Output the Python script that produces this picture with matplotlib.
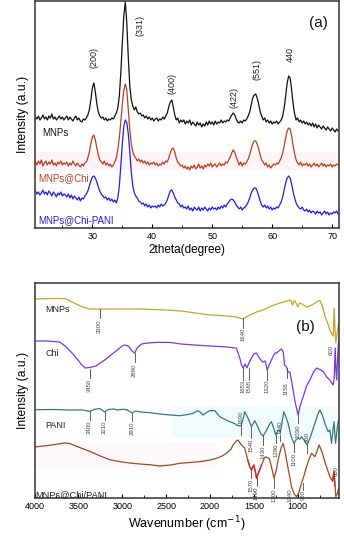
import numpy as np
import matplotlib
matplotlib.use('Agg')
import matplotlib.pyplot as plt

plt.rcParams['font.family'] = ['Liberation Sans', 'DejaVu Sans']

#--------------------- XRD data (panel a) ---------------------
two_theta = np.arange(20.5, 71.01, 0.25)

xrd_mnps = [111,109,112,108,110,113,109,111,108,112,110,114,109,111,108,110,112,109,111,108,
            110,112,108,111,109,107,110,112,108,110,107,106,109,108,110,113,118,128,140,145,
            136,124,116,112,110,111,108,110,107,109,108,110,109,112,115,120,132,155,185,212,
            226,205,170,142,128,122,118,121,116,114,115,112,113,110,112,109,111,108,110,107,
            109,110,107,109,108,111,109,112,115,121,126,128,121,113,108,110,105,108,106,108,
            104,107,105,108,103,106,104,102,106,103,105,101,104,102,106,103,107,104,106,103,
            107,104,106,105,108,105,107,106,108,107,110,113,115,113,109,106,105,107,105,108,
            107,109,112,116,123,130,133,134,130,124,116,112,108,110,106,108,105,107,104,106,
            105,107,104,106,108,112,120,132,145,152,150,138,124,114,108,110,106,108,105,107,
            104,106,103,105,102,105,101,104,100,103,101,99,102,100,98,101,99,97,100,98,
            96,99,97]

xrd_chi = [66,63,67,64,68,62,65,67,63,66,64,68,63,65,62,66,64,67,63,65,
           64,66,62,65,63,67,64,62,65,63,61,64,62,65,66,70,76,84,91,93,
           88,80,73,68,66,64,67,63,65,62,64,61,63,66,70,78,90,106,124,138,
           144,138,118,98,84,76,72,70,67,69,66,68,65,67,64,66,63,65,64,66,
           63,65,62,64,63,66,64,67,66,70,75,79,80,76,70,66,64,62,63,60,
           62,59,61,58,62,60,63,59,61,64,60,62,59,63,61,64,62,65,61,63,
           64,61,63,65,62,64,63,66,65,68,71,75,78,76,71,67,63,66,62,65,
           64,66,69,73,79,84,87,87,84,79,73,68,66,63,65,61,63,60,62,64,
           63,65,64,67,70,75,82,90,97,100,99,92,82,74,68,65,63,66,62,64,
           63,65,62,64,61,63,65,62,64,61,63,65,62,64,61,63,62,64,61,63,
           62,64,63]

xrd_chi_pani = [37,34,36,33,35,38,34,36,33,37,35,32,36,34,31,35,33,36,32,34,
                33,31,34,30,33,29,32,30,28,31,27,30,29,32,34,37,42,47,51,52,
                50,46,41,37,34,32,30,31,28,30,27,29,26,28,25,30,42,62,84,102,
                108,105,94,76,56,42,35,32,30,27,26,24,25,22,24,21,23,20,22,21,
                22,20,23,21,24,22,23,25,28,33,37,38,35,31,28,25,24,21,23,20,
                21,19,22,18,20,17,21,19,18,21,17,20,18,21,19,17,20,18,21,19,
                20,18,21,19,22,20,23,21,24,26,28,29,28,26,23,21,19,21,18,20,
                21,23,26,30,35,38,40,40,37,32,27,23,21,23,20,22,19,21,18,20,
                19,21,20,23,26,31,38,45,50,52,50,44,36,30,25,22,20,19,21,18,
                17,19,16,18,15,17,16,14,17,15,16,13,15,17,14,16,13,15,14,16,
                15,17,14]

peak_pos = [30.3, 38.0, 43.3, 53.7, 57.45, 63.0]
peak_lab = ['(200)', '(331)', '(400)', '(422)', '(551)', '440']
peak_y = [170, 203, 145, 131, 158, 173]

#--------------------- FTIR data (panel b) ---------------------
w_mnps = [4000,3800,3700,3635,3550,3450,3372,3300,3000,2790,2500,2330,2000,1800,1700,1623,
          1547,1470,1398,1300,1204,1120,1090,1075,1060,1045,1030,999,980,950,900,862,800,
          771,748,720,691,660,634,610,596,585,575,566,551,539,530]
h_mnps = [199,199.5,199.5,199,195,191,189,189,189,189,188,187,183,182,181,179,
          183,186,188,192,195,197,198,197,193,197,197,191,195,194,191,192,195,
          197,197.5,192,182,175,168,164,162,190,168,155,165,172,175]

w_chi = [4000,3850,3715,3650,3550,3460,3420,3372,3300,3200,3100,3000,2973,2930,2890,2859,
         2830,2780,2711,2600,2450,2333,2100,1990,1800,1720,1699,1680,1661,1640,1623,1600,
         1581,1540,1500,1470,1430,1400,1370,1349,1320,1290,1260,1242,1215,1185,1165,1150,
         1128,1110,1090,1060,1030,996,970,939,900,862,820,786,750,710,670,634,605,596,
         585,573,565,557,548,539,530]
h_chi = [157,157,156,152,143,133,130,130.5,132,138,145,152,153,152,147,145,
         150,154,155,155.7,155.5,154,152.5,152,151,150,150,145,140,133,130,134,
         130,138,144,145,139,136,137,128,134,140,145,145,147,149,146,133,
         131,126,126,112,96,83,93,101,112,118,126,130,128.5,126.5,121,118,114,113,
         120,150,128,118,135,152,158]

w_pani = [4000,3800,3600,3450,3372,3320,3258,3230,3201,3160,3100,3050,3000,2950,2885,2850,
          2790,2688,2574,2450,2345,2250,2194,2137,2100,2080,2040,2003,1946,1889,1830,1775,
          1720,1699,1660,1642,1620,1604,1566,1528,1490,1460,1420,1395,1360,1320,1300,1275,
          1250,1230,1212,1200,1185,1159,1135,1110,1080,1045,1020,996,975,957,920,893,
          860,830,805,770,748,720,691,653,634,615,588,569,550,539,530]
h_pani = [88.3,88.5,88,88,86.5,88.5,89.5,88,86,88.5,89,88,88.7,88.3,85,87,
          86,85.3,84,83,82.3,83.5,84.7,87.3,85,83,85.5,87.3,87.3,81.3,78.5,76.3,
          74.5,73,72,73,80,86.3,79.7,71.3,77.3,72,64,62,67,74,76.3,70,
          63,67,68,65.5,72,86.3,81,74.7,63,54.7,58,59.7,59,61.3,57,53,
          60,68,74.7,84,88,83,74.7,66.3,68,54.7,76.3,54.7,70,76.3,78]

w_mix = [4000,3800,3658,3600,3500,3372,3250,3144,3000,2916,2800,2688,2574,2450,2345,2230,
         2117,2000,1927,1860,1813,1760,1737,1700,1680,1669,1640,1604,1570,1547,1528,1501,
         1480,1470,1440,1413,1380,1364,1340,1326,1300,1270,1245,1224,1190,1167,1145,1128,
         1100,1071,1040,1014,990,957,930,900,870,843,805,780,756,720,691,660,634,603,
         588,575,566,550,539,530]
h_mix = [51,53,55,54.5,51,46.7,42,38.3,36,35,34,33.3,32,33,34.7,35.5,
         36.3,38,39.7,42,44.7,49,53,57,58,56.3,53,49.7,38,31.3,28,33,
         25,19.7,27,33,40,41.3,40,39.7,31.3,19.7,28,38,50,54.7,47,38,
         25,11.3,4,1.3,5,14.7,22,31.3,39,44.7,41.3,47,53,45,36.3,28,21.3,16.7,
         26.3,12,1.3,4,8,10]

# band labels: (wavenumber, line top, line bottom, text, text y)
marks_mnps = [(3258, 189, 180, '3300', 172), (1623, 180, 170, '1640', 164)]
marks_chi = [(3372, 129, 120, '3450', 112.5), (2859, 145, 136, '2880', 128),
             (1623, 130, 118, '1653', 112), (1560, 130, 118, '1565', 112),
             (1349, 128, 118, '1320', 112), (1128, 130, 120, '1156', 109),
             (996, 83, 75, '1030', 67), (615, None, None, '600', 148)]
marks_pani = [(3372, 87, 78, '3400', 71), (3201, 86, 78, '3210', 70.5),
              (2885, 85, 77, '2910', 69.5), (1642, 73, 63, '1690', 81),
              (1528, 71, 60, '1540', 53), (1395, 62, 53, '1430', 45.5),
              (1250, 63, 55, '1290', 47.5), (1198, 63, 57, '1240', 71),
              (1045, 55, 46, '1100', 39), (893, 53, 45, '930', 61)]
marks_mix = [(1528, 28, 20, '1570', 12.5), (1470, 20, 12, '1490', 5),
             (1270, 20, 10, '1300', 3), (1083, None, None, '1040', 3),
             (942, 15, 8, '960', 3), (566, None, None, '600', 27)]

#--------------------- plotting ---------------------
fig = plt.figure(figsize=(3.44, 5.5), dpi=100)
L, W = 34.5/344, 304.5/344
ax1 = fig.add_axes([L, (550-228)/550, W, 227/550])
ax2 = fig.add_axes([L, (550-498)/550, W, 215/550])

c_black, c_red, c_blue = '#111111', '#b5401c', '#1f1fe0'
# faint tint behind the middle trace, as in the scanned figure
ax1.axhspan(58, 76, color='#fef4f7', zorder=0, lw=0)
ax1.plot(two_theta, xrd_mnps, color=c_black, lw=0.9)
ax1.plot(two_theta, xrd_chi, color=c_red, lw=0.9)
ax1.plot(two_theta, xrd_chi_pani, color=c_blue, lw=0.9)
for p, t, y in zip(peak_pos, peak_lab, peak_y):
    ax1.text(p, y, t, rotation=90, fontsize=6.5, ha='center', va='center', color='#222222')
ax1.text(21.67, 95, 'MNPs', fontsize=7, color=c_black, va='center')
ax1.text(21.0, 50, 'MNPs@Chi', fontsize=7, color=c_red, va='center')
ax1.text(21.0, 8, 'MNPs@Chi-PANI', fontsize=7, color=c_blue, va='center')
ax1.text(67.7, 205, '(a)', fontsize=11, ha='center', va='center', color='#111111')
ax1.set_xlim(20.35, 71.15)
ax1.set_ylim(0, 227)
ax1.set_xticks([30, 40, 50, 60, 70])
ax1.set_xticks(np.arange(25, 71, 10), minor=True)
ax1.set_xlabel('2theta(degree)', fontsize=8.5, labelpad=2)

c_gold, c_vio, c_teal, c_brown = '#c9a227', '#7a35e2', '#357786', '#9c4a22'
ax2.axhspan(60, 92, xmin=0.45, xmax=1, color='#f1fbfb', zorder=0, lw=0)
ax2.axhspan(30, 56, xmin=0.0, xmax=0.6, color='#fef8fa', zorder=0, lw=0)
ax2.plot(w_mnps, h_mnps, color=c_gold, lw=0.9)
ax2.plot(w_chi, h_chi, color=c_vio, lw=0.9)
ax2.plot(w_pani, h_pani, color=c_teal, lw=0.9)
ax2.plot(w_mix, h_mix, color=c_brown, lw=0.9)
wm = np.array(w_mix)
hm = np.array(h_mix)
for lo, hi in [(1390, 1600), (575, 620)]:
    sel = (wm >= lo) & (wm <= hi)
    ax2.plot(wm[sel], hm[sel], color='#d8261c', lw=0.9)

for marks in [marks_mnps, marks_chi, marks_pani, marks_mix]:
    for w, y0, y1, t, yt in marks:
        if y0 is not None:
            ax2.plot([w, w], [y0, y1], color='#444444', lw=0.6)
        ax2.text(w, yt, t, rotation=90, fontsize=4.3, ha='center', va='center', color='#444444')

ax2.text(3880, 189, 'MNPs', fontsize=6.5, va='center', color='#222222')
ax2.text(3880, 144, 'Chi', fontsize=6.5, va='center', color='#222222')
ax2.text(3880, 73, 'PANI', fontsize=6.5, va='center', color='#222222')
ax2.text(3990, 3, 'MNPs@Chi/PANI', fontsize=6.7, va='center', color='#222222')
ax2.text(910, 171, '(b)', fontsize=11, ha='center', va='center', color='#111111')
ax2.set_xlim(4000, 530)
ax2.set_ylim(0, 215)
ax2.set_xticks([4000, 3500, 3000, 2500, 2000, 1500, 1000])
ax2.set_xticks([3750, 3250, 2750, 2250, 1750, 1250, 750], minor=True)
ax2.set_xlabel('Wavenumber (cm$^{-1}$)', fontsize=9, labelpad=2)

for ax in (ax1, ax2):
    ax.set_yticks([])
    ax.set_ylabel('Intensity (a.u.)', fontsize=8.7, labelpad=4)
    ax.tick_params(axis='x', direction='in', labelsize=6.5, length=3, width=0.8, pad=3)
    ax.tick_params(axis='x', which='minor', direction='in', length=2, width=0.6)
    for s in ax.spines.values():
        s.set_color('#333333')
        s.set_linewidth(1.1)

fig.savefig('out.png', dpi=100)
